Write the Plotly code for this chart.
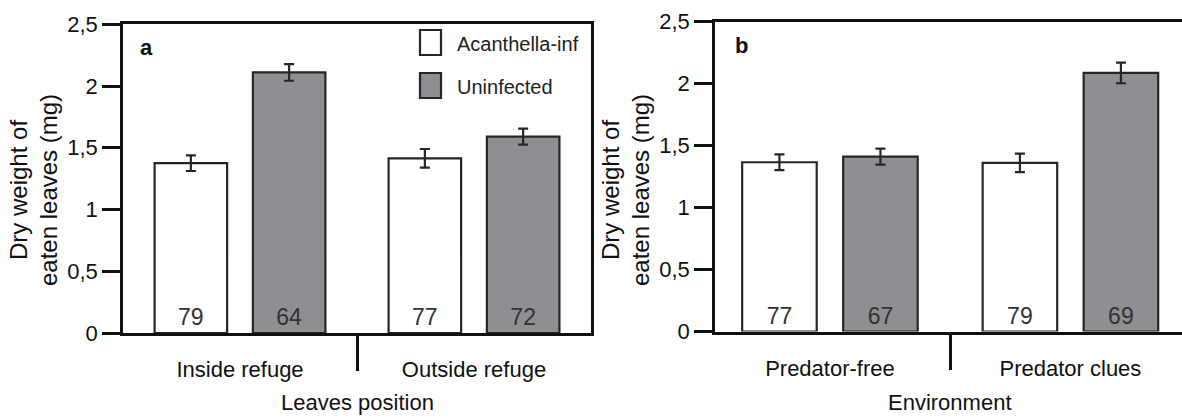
import plotly.graph_objects as go

# ---- data -------------------------------------------------------------
series_names = ["Acanthella-inf", "Uninfected"]

position_categories = ["Inside refuge", "Outside refuge"]
position_infected_mean = [1.375, 1.415]
position_infected_se = [0.063, 0.075]
position_uninfected_mean = [2.11, 1.59]
position_uninfected_se = [0.067, 0.065]
position_infected_n = [79, 77]
position_uninfected_n = [64, 72]

environment_categories = ["Predator-free", "Predator clues"]
environment_infected_mean = [1.365, 1.36]
environment_infected_se = [0.063, 0.075]
environment_uninfected_mean = [1.41, 2.085]
environment_uninfected_se = [0.064, 0.083]
environment_infected_n = [77, 79]
environment_uninfected_n = [67, 69]

y_tick_values = [0, 0.5, 1, 1.5, 2, 2.5]
y_title_lines = ["Dry weight of", "eaten leaves (mg)"]
panel_letters = ["a", "b"]
x_titles = ["Leaves position", "Environment"]
group_divider = 0.5  # boundary between the two categories

# ---- styling ----------------------------------------------------------
W, H = 1182, 419
FONT = "Liberation Sans, Arial, sans-serif"
INK = "#111111"
EDGE = "#262626"
FILLS = ["#ffffff", "#8e8f93"]
BAR_WIDTH = 0.31
OFFSETS = [-0.365, 0.055]
AXIS_LW = 2.5


def fx(px):
    return px / W


def fy(py):
    return 1 - py / H


fig = go.Figure()

panels = [
    dict(x="x", y="y", xd="x3", cats=position_categories,
         means=[position_infected_mean, position_uninfected_mean],
         ses=[position_infected_se, position_uninfected_se],
         ns=[position_infected_n, position_uninfected_n]),
    dict(x="x2", y="y2", xd="x4", cats=environment_categories,
         means=[environment_infected_mean, environment_uninfected_mean],
         ses=[environment_infected_se, environment_uninfected_se],
         ns=[environment_infected_n, environment_uninfected_n]),
]

for p in panels:
    for k in range(2):
        fig.add_trace(go.Bar(
            x=p["cats"], y=p["means"][k], name=series_names[k],
            xaxis=p["x"], yaxis=p["y"],
            offset=OFFSETS[k], width=BAR_WIDTH,
            marker=dict(color=FILLS[k], line=dict(color=EDGE, width=2.2)),
            error_y=dict(type="data", array=p["ses"][k], color=EDGE,
                         thickness=2.2, width=5),
            text=[str(v) for v in p["ns"][k]],
            textposition="inside", insidetextanchor="start", textangle=0,
            constraintext="none",
            insidetextfont=dict(family=FONT, size=23, color="#333333"),
            showlegend=False, hoverinfo="skip",
        ))
    # carrier trace for the linear overlay axis holding the group divider
    fig.add_trace(go.Scatter(x=[], y=[], xaxis=p["xd"], yaxis=p["y"],
                             showlegend=False, hoverinfo="skip"))

common_x = dict(type="category", showline=True, linecolor=INK,
                linewidth=AXIS_LW, ticks="outside", ticklen=15,
                tickcolor="rgba(0,0,0,0)",
                tickfont=dict(family=FONT, size=22, color=INK),
                showgrid=False, zeroline=False, fixedrange=True,
                automargin=False)
common_y = dict(range=[0, 2.5], tickvals=y_tick_values, showline=True,
                linecolor=INK, linewidth=AXIS_LW, ticks="outside", ticklen=18,
                tickwidth=AXIS_LW, tickcolor=INK,
                tickfont=dict(family=FONT, size=22, color=INK),
                showgrid=False, zeroline=False, fixedrange=True,
                automargin=False)
divider_x = dict(type="linear", tickvals=[group_divider], ticks="outside",
                 ticklen=37, tickwidth=AXIS_LW, tickcolor=INK,
                 showticklabels=False, showline=False, showgrid=False,
                 zeroline=False, fixedrange=True, automargin=False)

range_a = [-0.5, 1.5]
range_b = [-0.478, 1.464]

fig.update_layout(
    template="none",
    width=W, height=H, autosize=False,
    margin=dict(l=0, r=0, t=0, b=0, pad=0),
    paper_bgcolor="white", plot_bgcolor="white",
    separators=", ",
    barmode="overlay",
    showlegend=False,
    font=dict(family=FONT, color=INK),
    xaxis=dict(common_x, domain=[fx(123), fx(591)], range=range_a,
               anchor="y", mirror=True),
    yaxis=dict(common_y, domain=[fy(333), fy(24.3)], anchor="x", mirror=True),
    xaxis3=dict(divider_x, overlaying="x", anchor="y", range=range_a),
    xaxis2=dict(common_x, domain=[fx(715), 1.0], range=range_b,
                anchor="y2", mirror=True),
    yaxis2=dict(common_y, domain=[fy(331.5), fy(21.5)], anchor="x2",
                mirror=False),
    xaxis4=dict(divider_x, overlaying="x2", anchor="y2", range=range_b),
)

annotations = []
# two-line y-axis titles, one annotation per line
for line_xs in ((18, 48), (610, 640)):
    for lx, line in zip(line_xs, y_title_lines):
        annotations.append(dict(
            text=line, textangle=-90, x=fx(lx), y=fy(190),
            xref="paper", yref="paper", xanchor="center", yanchor="middle",
            showarrow=False, font=dict(family=FONT, size=24, color=INK)))
# x-axis titles centred on the group divider
for xd, title in zip(("x3", "x4"), x_titles):
    annotations.append(dict(
        text=title, x=group_divider, xref=xd, y=fy(402), yref="paper",
        xanchor="center", yanchor="middle", showarrow=False,
        font=dict(family=FONT, size=22, color=INK)))
# panel letters
for (lx, ly), letter in zip(((146, 47), (741, 45)), panel_letters):
    annotations.append(dict(
        text="<b>%s</b>" % letter, x=fx(lx), y=fy(ly), xref="paper",
        yref="paper", xanchor="center", yanchor="middle", showarrow=False,
        font=dict(family=FONT, size=22, color=INK)))

# legend swatches and labels
shapes = []
for k, (top, mid) in enumerate(((30, 44), (73, 87))):
    shapes.append(dict(type="rect", xref="paper", yref="paper",
                       x0=fx(420), x1=fx(441), y0=fy(top + 25), y1=fy(top),
                       fillcolor=FILLS[k], line=dict(color=EDGE, width=2.2)))
    annotations.append(dict(
        text=series_names[k], x=fx(455), y=fy(mid), xref="paper",
        yref="paper", xanchor="left", yanchor="middle", showarrow=False,
        font=dict(family=FONT, size=20, color="#222222")))

fig.update_layout(annotations=annotations, shapes=shapes)

fig.write_html("out.html")
